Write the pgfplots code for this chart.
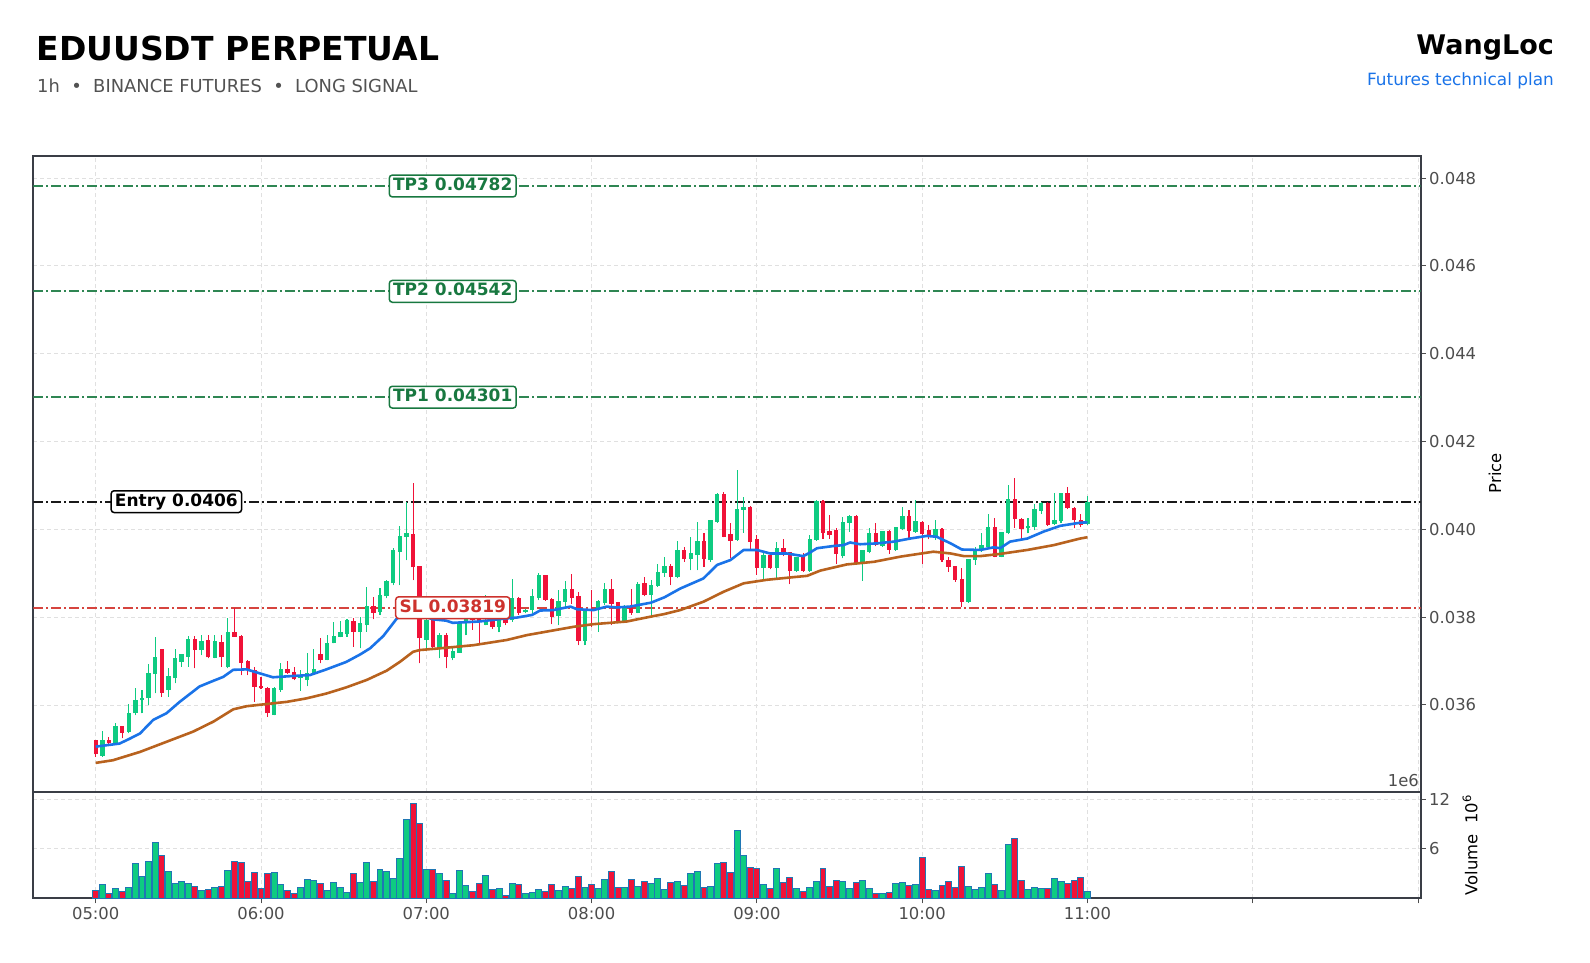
\documentclass[border=0pt]{standalone}
\usepackage{fontspec}
\setmainfont{DejaVu Sans}
\usepackage{pgfplots}
\pgfplotsset{compat=1.18}
\usepackage{pgfplotstable}

\definecolor{cgreen}{RGB}{14,203,129}
\definecolor{cred}{RGB}{240,18,56}
\definecolor{volblue}{RGB}{31,119,180}
\definecolor{emablue}{RGB}{26,115,232}
\definecolor{emabrown}{RGB}{184,98,30}
\definecolor{tpgreen}{RGB}{24,120,64}
\definecolor{slred}{RGB}{205,50,45}
\definecolor{slline}{RGB}{214,68,62}
\definecolor{gridc}{RGB}{224,224,224}
\definecolor{tickc}{RGB}{77,77,77}
\definecolor{framec}{RGB}{58,62,70}
\definecolor{linkblue}{RGB}{26,115,232}

\pgfplotstableread{
i o h l c v
1 0.034844 0.035405 0.034821 0.035178 1.68
3 0.035124 0.035580 0.035124 0.035504 1.20
5 0.035390 0.036020 0.035352 0.035808 1.32
6 0.035808 0.036377 0.035770 0.036111 4.20
7 0.036111 0.036339 0.035808 0.036142 2.64
8 0.036149 0.036932 0.035998 0.036719 4.44
9 0.036704 0.037539 0.036263 0.037083 6.72
11 0.036339 0.036833 0.036187 0.036643 3.24
12 0.036605 0.037266 0.036491 0.037061 1.80
13 0.036985 0.037159 0.036871 0.037137 2.04
14 0.037099 0.037577 0.036871 0.037493 1.84
16 0.037250 0.037592 0.037137 0.037440 1.00
18 0.037076 0.037592 0.037061 0.037440 1.32
20 0.036856 0.037972 0.036833 0.037653 3.36
27 0.035770 0.036415 0.035770 0.036377 3.12
28 0.036339 0.036947 0.036301 0.036810 1.68
31 0.036605 0.036795 0.036324 0.036643 1.32
32 0.036567 0.037190 0.036430 0.036704 2.28
33 0.036704 0.037266 0.036704 0.036810 2.16
35 0.037023 0.037592 0.037023 0.037402 0.96
36 0.037402 0.037896 0.037402 0.037569 1.92
37 0.037554 0.037919 0.037539 0.037645 1.32
38 0.037615 0.037949 0.037554 0.037919 0.72
40 0.037668 0.037995 0.037288 0.037843 1.92
41 0.037820 0.038678 0.037668 0.038238 4.32
43 0.038124 0.038655 0.038048 0.038481 3.48
44 0.038481 0.038845 0.038427 0.038807 3.24
45 0.038769 0.039566 0.038731 0.039528 2.40
46 0.039490 0.040075 0.038731 0.039847 4.80
47 0.039832 0.040629 0.039300 0.039908 9.60
50 0.037480 0.038050 0.037290 0.037930 3.48
52 0.037290 0.037630 0.037060 0.037570 3.04
54 0.037060 0.037330 0.037020 0.037210 0.60
55 0.037190 0.037900 0.037190 0.037860 3.36
56 0.037870 0.038240 0.037590 0.037970 1.56
59 0.037820 0.038500 0.037820 0.037890 2.76
61 0.037780 0.037970 0.037650 0.037930 1.20
63 0.037930 0.038860 0.037890 0.038430 1.80
65 0.038110 0.038180 0.038090 0.038160 0.60
66 0.038160 0.038650 0.038090 0.038460 0.72
67 0.038430 0.039010 0.038390 0.038940 1.08
70 0.038020 0.038620 0.037820 0.038350 0.96
71 0.038350 0.038830 0.038240 0.038620 1.44
74 0.037460 0.038180 0.037360 0.038160 1.32
76 0.038160 0.038400 0.037670 0.038350 1.20
77 0.038330 0.038780 0.038280 0.038620 2.28
80 0.037920 0.038280 0.037900 0.038250 1.32
82 0.038100 0.038810 0.038090 0.038750 1.40
84 0.038500 0.038840 0.038050 0.038730 1.80
85 0.038710 0.039220 0.038690 0.039010 2.40
86 0.039010 0.039380 0.038920 0.039160 1.10
88 0.038920 0.039740 0.038880 0.039510 2.04
90 0.039320 0.039820 0.039070 0.039450 3.00
91 0.039410 0.040170 0.039070 0.039720 3.24
93 0.039300 0.040210 0.039260 0.040190 1.44
94 0.040170 0.040830 0.040150 0.040800 4.20
97 0.039760 0.041350 0.039740 0.040450 8.28
98 0.040450 0.040730 0.039920 0.040500 5.16
101 0.039130 0.039470 0.038850 0.039410 1.68
103 0.039130 0.039720 0.038880 0.039570 3.60
106 0.039060 0.039380 0.039030 0.039360 1.20
108 0.039060 0.039870 0.039030 0.039760 1.32
109 0.039760 0.040670 0.039740 0.040630 2.04
113 0.039390 0.040270 0.039340 0.040150 2.04
114 0.040140 0.040330 0.039950 0.040290 1.20
116 0.039220 0.039530 0.038830 0.039510 2.16
117 0.039490 0.040040 0.039450 0.039910 1.20
119 0.039620 0.039960 0.039600 0.039960 0.60
121 0.039530 0.040060 0.039510 0.040040 1.80
122 0.040000 0.040500 0.039980 0.040290 1.90
124 0.039950 0.040670 0.039920 0.040170 1.68
127 0.039820 0.040210 0.039760 0.040000 0.96
132 0.038350 0.039320 0.038330 0.039320 1.44
133 0.039300 0.039600 0.039190 0.039530 1.08
134 0.039530 0.039910 0.039490 0.039620 1.32
135 0.039590 0.040360 0.039570 0.040040 3.00
137 0.039380 0.039950 0.039360 0.039920 0.96
138 0.039910 0.041010 0.039890 0.040680 6.48
141 0.040020 0.040250 0.039910 0.040060 1.08
142 0.040060 0.040580 0.039980 0.040440 1.32
143 0.040420 0.040630 0.040360 0.040580 1.20
145 0.040120 0.040820 0.040100 0.040200 2.40
146 0.040180 0.040830 0.040150 0.040820 2.04
150 0.040120 0.040750 0.040100 0.040620 0.84
}\greencandles

\pgfplotstableread{
i o h l c v
0 0.035178 0.035200 0.034821 0.034874 0.92
2 0.035200 0.035261 0.035109 0.035124 0.60
4 0.035504 0.035519 0.035238 0.035367 0.84
10 0.037266 0.037266 0.036187 0.036279 5.16
15 0.037493 0.037569 0.036833 0.037250 1.44
17 0.037478 0.037592 0.037061 0.037083 1.08
19 0.037418 0.037592 0.036871 0.037083 1.44
21 0.037645 0.038200 0.037554 0.037554 4.44
22 0.037569 0.037592 0.036681 0.036962 4.32
23 0.036985 0.037023 0.036681 0.036795 2.04
24 0.036795 0.036856 0.036073 0.036415 3.12
25 0.036415 0.036643 0.036355 0.036377 1.20
26 0.036377 0.036415 0.035732 0.035808 3.00
29 0.036810 0.037000 0.036704 0.036734 0.96
30 0.036734 0.036871 0.036567 0.036582 0.60
34 0.037137 0.037516 0.036947 0.037023 1.84
39 0.037896 0.037972 0.037326 0.037668 3.00
42 0.038238 0.038450 0.037949 0.038101 2.04
48 0.039870 0.041062 0.038845 0.039133 11.52
49 0.039148 0.039148 0.036946 0.037516 9.12
51 0.037930 0.038000 0.037270 0.037330 3.48
53 0.037570 0.037630 0.036830 0.037100 2.16
57 0.038010 0.038160 0.037710 0.037930 0.84
58 0.037970 0.038160 0.037400 0.037890 1.80
60 0.038010 0.038050 0.037740 0.037780 1.08
62 0.037970 0.038050 0.037820 0.037860 0.36
64 0.038430 0.038460 0.038050 0.038090 1.68
68 0.038940 0.038960 0.038370 0.038400 0.84
69 0.038400 0.038430 0.037840 0.038010 1.68
72 0.038620 0.038980 0.038310 0.038430 1.20
73 0.038460 0.038580 0.037360 0.037460 2.64
75 0.038180 0.038620 0.037780 0.038130 1.68
78 0.038630 0.038860 0.037820 0.038310 3.24
79 0.038330 0.038350 0.037860 0.037920 1.32
81 0.038250 0.038630 0.038050 0.038090 2.28
83 0.038770 0.038920 0.038470 0.038500 2.04
87 0.039160 0.039220 0.038730 0.038920 1.92
89 0.039510 0.039590 0.039260 0.039320 1.56
92 0.039720 0.039920 0.039150 0.039320 1.32
95 0.040800 0.040860 0.039820 0.039820 4.32
96 0.039870 0.040140 0.039340 0.039740 3.12
99 0.040500 0.040520 0.039530 0.039720 3.72
100 0.039770 0.039870 0.038960 0.039130 3.60
102 0.039410 0.039490 0.039090 0.039130 1.20
104 0.039570 0.039790 0.039390 0.039450 1.92
105 0.039470 0.039490 0.038750 0.039060 2.52
107 0.039390 0.039450 0.039030 0.039060 0.80
110 0.040630 0.040670 0.039790 0.039920 3.60
111 0.039950 0.040330 0.039790 0.039870 1.40
112 0.039980 0.040020 0.039220 0.039440 2.16
115 0.040290 0.040330 0.039220 0.039220 1.92
118 0.039910 0.040150 0.039620 0.039640 0.60
120 0.039960 0.039980 0.039440 0.039540 0.70
123 0.040290 0.040440 0.039770 0.039970 1.60
125 0.040150 0.040200 0.039220 0.039890 4.92
126 0.039970 0.040100 0.039770 0.039870 1.08
128 0.040000 0.040020 0.039260 0.039290 1.56
129 0.039300 0.039360 0.039030 0.039150 2.04
130 0.039150 0.039150 0.038810 0.038850 1.32
131 0.038850 0.039110 0.038240 0.038350 3.84
136 0.040040 0.040250 0.039360 0.039380 1.68
139 0.040680 0.041160 0.040040 0.040230 7.20
140 0.040230 0.040250 0.039790 0.040000 2.16
144 0.040580 0.040630 0.040080 0.040100 1.20
147 0.040820 0.040960 0.040460 0.040480 1.80
148 0.040480 0.040500 0.040020 0.040210 2.16
149 0.040210 0.040350 0.040050 0.040100 2.52
}\redcandles

\pgfplotsset{
  panel/.style={
    scale only axis, width=1387.4pt,
    xmin=-9.44, xmax=200.4,
    axis line style={framec, line width=2.2pt},
    grid=major,
    major grid style={gridc, dash pattern=on 4pt off 3pt, line width=0.8pt},
    tick align=outside, major tick length=5pt,
    tick style={tickc, line width=1pt},
    ytick pos=right, yticklabel pos=right,
    ticklabel style={font=\fontsize{16.4}{19}\selectfont, text=tickc},
    /pgf/number format/assume math mode=true,
    xtick={0,25,50,75,100,125,150,175,200},
  },
  lvl/.style={line width=1.9pt, dash pattern=on 10pt off 3pt on 2pt off 3pt},
  stick/.style={only marks, mark size=0pt, mark options={draw=none, fill=none},
    error bars/.cd, y dir=plus, y explicit, error mark=none,
    error bar style={draw=#1, line width=1.1pt}},
  body/.style={only marks, mark size=0pt, mark options={draw=none, fill=none},
    error bars/.cd, y dir=plus, y explicit, error mark=none,
    error bar style={draw=#1, line width=4.4pt}},
}
\tikzset{
  lab/.style={fill=white, rounded corners=3pt, line width=1.5pt,
    inner xsep=3.8pt, inner ysep=2.7pt, text height=12.8pt, text depth=3.6pt,
    font=\fontsize{17}{20}\selectfont\bfseries},
}

\begin{document}
\begin{tikzpicture}
\path[use as bounding box] (0,0) rectangle (1590pt,962pt);

% ---------- price panel ----------
\begin{axis}[panel, at={(33.3pt,169.7pt)}, anchor=south west, height=636.6pt,
  ymin=0.03401, ymax=0.04851,
  ytick={0.036,0.038,0.040,0.042,0.044,0.046,0.048},
  yticklabels={0.036,0.038,0.040,0.042,0.044,0.046,0.048},
  xticklabels={}, xtick style={draw=none}, scaled y ticks=false]

% level lines
\addplot[lvl, tpgreen!90] coordinates {(-9.44,0.04782) (200.4,0.04782)};
\addplot[lvl, tpgreen!90] coordinates {(-9.44,0.04542) (200.4,0.04542)};
\addplot[lvl, tpgreen!90] coordinates {(-9.44,0.04301) (200.4,0.04301)};
\addplot[lvl, black!90] coordinates {(-9.44,0.04063) (200.4,0.04063)};
\addplot[lvl, slline, line width=2.1pt] coordinates {(-9.44,0.038215) (200.4,0.038215)};

% wicks
\addplot[stick=cgreen] table[x=i, y=l, y error plus expr=\thisrow{h}-\thisrow{l}] {\greencandles};
\addplot[stick=cred] table[x=i, y=l, y error plus expr=\thisrow{h}-\thisrow{l}] {\redcandles};
% bodies
\addplot[body=cgreen] table[x=i, y=o, y error plus expr=\thisrow{c}-\thisrow{o}+0.000012] {\greencandles};
\addplot[body=cred] table[x=i, y=c, y error plus expr=\thisrow{o}-\thisrow{c}+0.000012] {\redcandles};

% EMA slow
\addplot[emabrown, line width=2.6pt, line join=round] coordinates {
(0,0.03468) (2.6,0.03474) (6.7,0.03493) (10.7,0.03516) (14.7,0.03539) (17.8,0.03562)
(20.8,0.03590) (22.8,0.03597) (25.8,0.03602) (28.9,0.03607) (31.9,0.03615) (34.9,0.03626)
(37.9,0.03640) (41,0.03657) (44,0.03678) (46,0.03698) (48,0.03721) (49,0.03725)
(52.1,0.03729) (57.1,0.03736) (62.2,0.03748) (65.2,0.03759) (68.2,0.03767) (72.3,0.03778)
(75.3,0.03784) (80.3,0.03790) (83.9,0.03801) (86,0.03807) (88.4,0.03816) (91.9,0.03835)
(95,0.03858) (98,0.03877) (101.5,0.03885) (105.5,0.03891) (107.6,0.03894) (109.6,0.03906)
(113.6,0.03920) (117.7,0.03926) (121.8,0.03938) (124.9,0.03945) (126.7,0.03949) (129.3,0.03945)
(131.3,0.03939) (133.8,0.03939) (136.8,0.03944) (140.9,0.03953) (144.9,0.03964) (148.9,0.03979)
(150,0.03982)};
% EMA fast
\addplot[emablue, line width=2.6pt, line join=round] coordinates {
(0,0.03505) (3.6,0.03512) (5,0.03522) (6.7,0.03535) (8.7,0.03566) (10.7,0.03581)
(12.7,0.03607) (15.7,0.03642) (17.8,0.03655) (19.3,0.03664) (20.8,0.03680) (22.8,0.03681)
(24.8,0.03672) (26.8,0.03663) (29.9,0.03666) (32.4,0.03668) (34.9,0.03681) (37.9,0.03698)
(40,0.03715) (41.5,0.03729) (43.5,0.03757) (45.5,0.03796) (47,0.03812) (49,0.03805)
(51,0.03795) (53,0.03792) (54,0.03787) (58,0.03790) (62,0.03797) (63.7,0.03799)
(66,0.03805) (67.2,0.03815) (69.2,0.03816) (71.8,0.03824) (72.8,0.03818) (75.3,0.03816)
(77.3,0.03824) (78.8,0.03822) (80.8,0.03824) (84,0.03833) (86,0.03845) (88.4,0.03865)
(91.9,0.03888) (94,0.03919) (96,0.03930) (98,0.03953) (100,0.03953) (102,0.03945)
(104.5,0.03945) (107,0.03939) (107.8,0.03945) (109.1,0.03957) (111.6,0.03962) (113.1,0.03964)
(114.1,0.03970) (115.6,0.03966) (118.2,0.03968) (120.7,0.03972) (123.2,0.03979) (125.7,0.03985)
(127.2,0.03983) (129.3,0.03968) (131,0.03954) (133.8,0.03953) (135.8,0.03959) (136.8,0.03957)
(138.3,0.03972) (140.9,0.03979) (143.4,0.03995) (145.9,0.04008) (148.9,0.04015) (150,0.04016)};

% labels
\node[lab, draw=tpgreen, text=tpgreen] at (axis cs:54,0.04782) {TP3 0.04782};
\node[lab, draw=tpgreen, text=tpgreen] at (axis cs:54,0.04542) {TP2 0.04542};
\node[lab, draw=tpgreen, text=tpgreen] at (axis cs:54,0.04301) {TP1 0.04301};
\node[lab, draw=black, text=black] at (axis cs:12.2,0.04063) {Entry 0.0406};
\node[lab, draw=slred, text=slred] at (axis cs:54,0.038215) {SL 0.03819};
\end{axis}

% ---------- volume panel ----------
\begin{axis}[panel, at={(33.3pt,63.7pt)}, anchor=south west, height=106pt,
  ymin=0, ymax=12.85, ytick={6,12}, yticklabels={6,12},
  xtick pos=bottom,
  xticklabels={05:00,06:00,07:00,08:00,09:00,10:00,11:00,{},{}}]
\addplot[ybar, bar width=0.9, bar shift=0pt, fill=cgreen, draw=volblue, line width=1pt]
  table[x=i, y=v] {\greencandles};
\addplot[ybar, bar width=0.9, bar shift=0pt, fill=cred, draw=volblue, line width=1pt]
  table[x=i, y=v] {\redcandles};
\end{axis}

% ---------- texts ----------
\node[anchor=base west, inner sep=0, font=\fontsize{33}{38}\selectfont\bfseries] at (36.5pt,901pt) {EDUUSDT PERPETUAL};
\node[anchor=base west, inner sep=0, text=black!68, font=\fontsize{17.9}{21}\selectfont] at (37pt,869.7pt) {1h~~•~~BINANCE FUTURES~~•~~LONG SIGNAL};
\node[anchor=base east, inner sep=0, font=\fontsize{27}{32}\selectfont\bfseries] at (1554pt,907pt) {WangLoc};
\node[anchor=base east, inner sep=0, text=linkblue, font=\fontsize{16.9}{20}\selectfont] at (1554pt,876.3pt) {Futures technical plan};
\node[rotate=90, inner sep=0, font=\fontsize{16.4}{19}\selectfont] at (1495pt,489pt) {Price};
\node[rotate=90, inner sep=0, font=\fontsize{16.4}{19}\selectfont] at (1470pt,117pt) {Volume~~10\textsuperscript{6}};
\node[anchor=base east, inner sep=0, text=tickc, font=\fontsize{16.4}{19}\selectfont] at (1419pt,176pt) {1e6};
\end{tikzpicture}
\end{document}
